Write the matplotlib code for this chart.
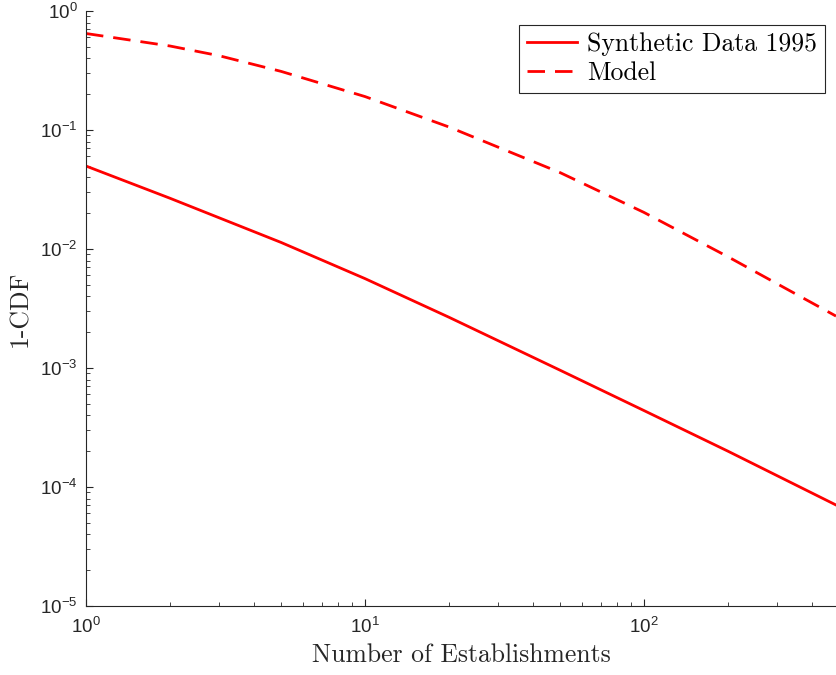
import numpy as np
import matplotlib
matplotlib.use("Agg")
import matplotlib.pyplot as plt

# establishment counts and complementary CDF values
x_synth = [1, 2, 5, 10, 20, 50, 100, 200, 488]
ccdf_synth = [0.0498, 0.0267, 0.01136, 0.00564, 0.00267, 9.59e-4, 4.39e-4, 2.0e-4, 7.06e-5]

x_model = [1, 2, 3, 5, 10, 20, 50, 100, 200, 488]
ccdf_model = [0.647, 0.508, 0.421, 0.311, 0.191, 0.106, 0.0439, 0.0203, 0.00861, 0.00273]

plt.rcParams['font.family'] = ['Liberation Sans', 'DejaVu Sans']
plt.rcParams['lines.scale_dashes'] = False

fig = plt.figure(figsize=(8.36, 6.75), dpi=100)
ax = fig.add_axes([86/836, 69/675, 750/836, 595/675])

ax.loglog(x_synth, ccdf_synth, color='#ff0000', lw=2.0, label='Synthetic Data 1995')
ax.loglog(x_model, ccdf_model, color='#ff0000', lw=2.0, dashes=(12.6, 7.2), label='Model')

ax.set_xlim(1, 488)
ax.set_ylim(1e-5, 1)

for side in ['top', 'right']:
    ax.spines[side].set_visible(False)
for side in ['left', 'bottom']:
    ax.spines[side].set_color('#262626')
    ax.spines[side].set_linewidth(0.8)

ax.tick_params(which='both', direction='in', colors='#262626', labelsize=13.5)
ax.tick_params(axis='x', which='major', pad=8)
ax.tick_params(axis='y', which='major', pad=6)
ax.tick_params(which='major', length=5)
ax.tick_params(which='minor', length=3)
ax.xaxis.set_minor_locator(matplotlib.ticker.LogLocator(base=10, subs=np.arange(2, 10), numticks=20))
ax.yaxis.set_minor_locator(matplotlib.ticker.LogLocator(base=10, subs=np.arange(2, 10), numticks=20))
ax.xaxis.set_minor_formatter(matplotlib.ticker.NullFormatter())
ax.yaxis.set_minor_formatter(matplotlib.ticker.NullFormatter())

ax.set_xlabel('Number of Establishments', fontfamily='cmr10', fontsize=18.5, color='#262626', labelpad=4)
ax.set_ylabel('1-CDF', fontfamily='cmr10', fontsize=18.5, color='#262626', labelpad=6)

leg = ax.legend(loc='upper right', bbox_to_anchor=((825 - 86) / 750, (606 - 25) / 595),
                prop={'family': 'cmr10', 'size': 18.5},
                fancybox=False, framealpha=1, edgecolor='#262626', handlelength=1.95,
                borderpad=0.3, labelspacing=0.2, handletextpad=0.4, borderaxespad=0)
leg.get_frame().set_linewidth(0.8)

fig.savefig('out.png', dpi=100)
